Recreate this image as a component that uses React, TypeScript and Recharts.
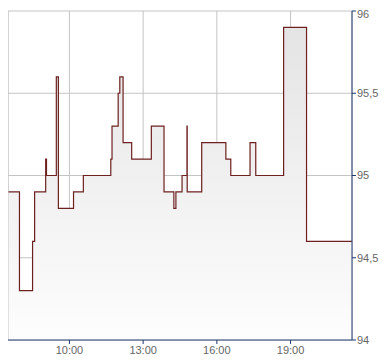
import React from 'react';
import { ComposedChart, Area, XAxis, YAxis, CartesianGrid, ReferenceLine } from 'recharts';

// time in minutes since midnight
const times = [450, 478, 510, 515, 542, 544, 568, 573, 610, 634, 701, 704, 719, 723, 731, 752, 800, 831, 855, 860, 875, 887, 887.6, 923, 982, 994, 1041, 1055, 1123, 1179, 1290];
const prices = [94.9, 94.3, 94.6, 94.9, 95.1, 95.0, 95.6, 94.8, 94.9, 95.0, 95.1, 95.3, 95.5, 95.6, 95.2, 95.1, 95.3, 94.9, 94.8, 94.9, 95.0, 95.3, 94.9, 95.2, 95.1, 95.0, 95.2, 95.0, 95.9, 94.6, 94.6];
const xTicks = [600, 780, 960, 1140];
const yTicks = [94, 94.5, 95, 95.5, 96];

const data = times.map((t, i) => ({ t, p: prices[i] }));

const fmtTime = (m: number) => {
  const h = Math.floor(m / 60);
  const mm = Math.round(m % 60);
  return `${h < 10 ? '0' + h : h}:${mm < 10 ? '0' + mm : mm}`;
};
const fmtPrice = (v: number) => String(v).replace('.', ',');

export default function App() {
  return (
    <ComposedChart width={382} height={356} data={data} margin={{ top: 3, right: 0, bottom: 0, left: 0 }}>
      <defs>
        <linearGradient id="fillG" x1="0" y1="0" x2="0" y2="1">
          <stop offset="0%" stopColor="#e4e4e4" />
          <stop offset="100%" stopColor="#fdfdfd" />
        </linearGradient>
      </defs>
      <CartesianGrid stroke="#c4c4c4" strokeWidth={1} />
      <ReferenceLine x={450} stroke="#c4c4c4" ifOverflow="extendDomain" />
      <XAxis
        dataKey="t"
        type="number"
        domain={[450, 1290]}
        ticks={xTicks}
        tickFormatter={fmtTime}
        height={24}
        stroke="#1f3a6e"
        tickSize={4}
        tickMargin={2}
        tick={{ fill: '#666', fontSize: 11, fontFamily: 'Liberation Sans, Arial, sans-serif' }}
        allowDataOverflow
      />
      <YAxis
        orientation="right"
        type="number"
        domain={[94, 96]}
        ticks={yTicks}
        tickFormatter={fmtPrice}
        width={38}
        stroke="#1f3a6e"
        tickSize={4}
        tickMargin={1}
        tick={{ fill: '#666', fontSize: 11, fontFamily: 'Liberation Sans, Arial, sans-serif', textAnchor: 'start' }}
        allowDataOverflow
      />
      <Area
        type="stepAfter"
        dataKey="p"
        stroke="#6e2020"
        strokeWidth={1.2}
        fill="url(#fillG)"
        fillOpacity={1}
        isAnimationActive={false}
        dot={false}
        activeDot={false}
      />
    </ComposedChart>
  );
}
